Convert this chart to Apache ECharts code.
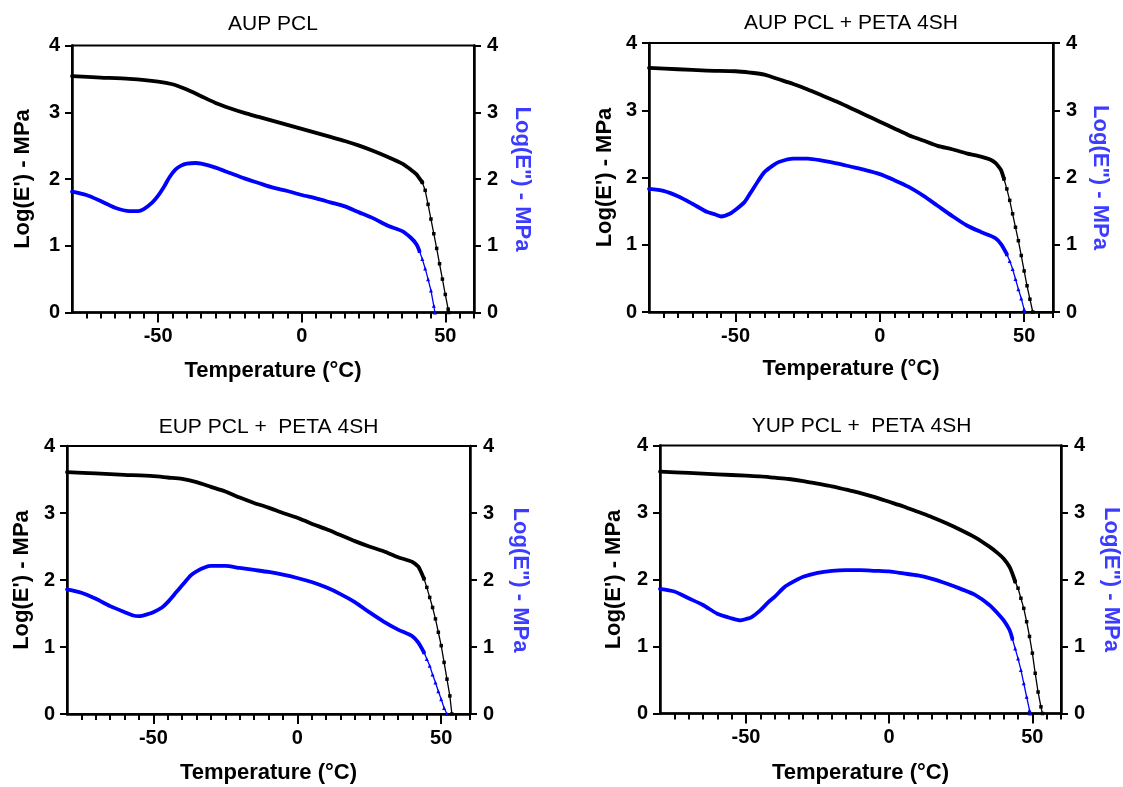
<!DOCTYPE html>
<html><head><meta charset="utf-8">
<script src="https://cdn.jsdelivr.net/npm/echarts@6/dist/echarts.min.js"></script>
<style>html,body{margin:0;padding:0;background:#fff}#c{width:1123px;height:787px}</style>
</head><body><div id="c"></div>
<script>
// ---------- DATA ----------
const titles = ['AUP PCL', 'AUP PCL + PETA 4SH', 'EUP PCL +  PETA 4SH', 'YUP PCL +  PETA 4SH'];
const xLabelTicks = [-50, 0, 50];
const xMinorTicks = [-75,-70,-65,-60,-55,-45,-40,-35,-30,-25,-20,-15,-10,-5,5,10,15,20,25,30,35,40,45,55,60];
const xName = 'Temperature (°C)';
const yLeftName = "Log(E') - MPa";
const yRightName = 'Log(E") - MPa';

// Panel 1: AUP PCL
const p1StorageT = [-80,-70,-60,-50,-45,-40,-35,-30,-25,-20,-15,-10,-5,0,5,10,15,20,25,30,35,38,40,41,42,43,44,45,46,47,48,49,50,51,51.2];
const p1Storage  = [3.54,3.52,3.50,3.46,3.42,3.34,3.24,3.14,3.06,2.99,2.93,2.87,2.81,2.75,2.69,2.63,2.57,2.50,2.42,2.33,2.23,2.14,2.07,2.01,1.95,1.83,1.62,1.40,1.18,0.96,0.73,0.50,0.27,0.05,0.0];
const p1LossT = [-80,-75,-70,-65,-60,-57,-55,-52,-50,-48,-46,-44,-42,-40,-37,-35,-30,-25,-20,-15,-10,-5,0,5,10,15,20,25,30,35,38,40,41,42,43,44,45,46,46.4];
const p1Loss  = [1.81,1.76,1.67,1.57,1.52,1.52,1.55,1.65,1.75,1.88,2.03,2.14,2.20,2.23,2.24,2.23,2.17,2.09,2.01,1.94,1.87,1.82,1.76,1.71,1.65,1.59,1.50,1.41,1.30,1.22,1.12,1.02,0.92,0.80,0.66,0.50,0.33,0.10,0.0];

// Panel 2: AUP PCL + PETA 4SH
const p2StorageT = [-80,-70,-60,-50,-45,-40,-35,-30,-25,-20,-15,-10,-5,0,5,10,15,20,25,30,35,38,40,41,42,43,44,45,46,47,48,49,50,51,52,53];
const p2Storage  = [3.63,3.61,3.59,3.58,3.56,3.53,3.46,3.39,3.31,3.22,3.13,3.03,2.93,2.83,2.73,2.63,2.55,2.47,2.42,2.36,2.31,2.27,2.22,2.17,2.11,1.98,1.83,1.66,1.46,1.26,1.06,0.84,0.61,0.39,0.19,0.0];
const p2LossT = [-80,-75,-70,-65,-60,-57,-55,-52,-50,-47,-45,-42,-40,-37,-35,-30,-25,-20,-15,-10,-5,0,5,10,15,20,25,30,35,40,42,44,45,46,47,48,49,50,50.2];
const p2Loss  = [1.83,1.80,1.72,1.61,1.49,1.45,1.42,1.46,1.52,1.63,1.76,1.96,2.08,2.18,2.23,2.28,2.28,2.25,2.21,2.16,2.11,2.05,1.96,1.86,1.73,1.58,1.43,1.29,1.19,1.10,1.01,0.86,0.76,0.64,0.49,0.34,0.20,0.04,0.0];

// Panel 3: EUP PCL + PETA 4SH
const p3StorageT = [-80,-70,-60,-50,-45,-40,-35,-30,-25,-20,-15,-10,-5,0,5,10,15,20,25,30,35,40,42,43,44,45,46,47,48,49,50,51,52,53,53.7];
const p3Storage  = [3.61,3.59,3.57,3.55,3.53,3.51,3.46,3.39,3.32,3.23,3.15,3.08,3.00,2.93,2.84,2.76,2.67,2.58,2.50,2.43,2.34,2.27,2.20,2.12,2.02,1.89,1.74,1.59,1.42,1.22,1.02,0.77,0.52,0.27,0.0];
const p3LossT = [-80,-75,-70,-65,-60,-57,-55,-52,-50,-47,-45,-42,-40,-37,-35,-32,-30,-25,-20,-15,-10,-5,0,5,10,15,20,25,30,35,40,42,44,45,46,47,48,49,50,51,52];
const p3Loss  = [1.86,1.81,1.72,1.61,1.52,1.47,1.46,1.49,1.52,1.59,1.67,1.82,1.92,2.07,2.13,2.19,2.21,2.21,2.18,2.15,2.12,2.08,2.03,1.97,1.89,1.79,1.67,1.52,1.38,1.26,1.16,1.07,0.92,0.82,0.72,0.59,0.47,0.34,0.22,0.09,0.0];

// Panel 4: YUP PCL + PETA 4SH
const p4StorageT = [-80,-70,-60,-50,-45,-40,-35,-30,-25,-20,-15,-10,-5,0,5,10,15,20,25,30,35,38,40,42,43,44,45,46,47,48,49,50,51,52,53,53.5];
const p4Storage  = [3.61,3.59,3.57,3.55,3.54,3.52,3.50,3.47,3.43,3.39,3.34,3.29,3.23,3.16,3.09,3.01,2.93,2.84,2.74,2.63,2.49,2.39,2.31,2.19,2.09,1.97,1.87,1.72,1.57,1.37,1.15,0.90,0.60,0.32,0.10,0.0];
const p4LossT = [-80,-75,-70,-65,-60,-55,-52,-50,-48,-45,-42,-40,-37,-35,-30,-25,-20,-15,-10,-5,0,5,10,15,20,25,30,35,38,40,42,43,44,45,46,47,48,49,49.2];
const p4Loss  = [1.86,1.82,1.72,1.62,1.49,1.42,1.39,1.41,1.44,1.54,1.67,1.74,1.87,1.93,2.04,2.10,2.13,2.14,2.14,2.13,2.12,2.09,2.06,2.01,1.94,1.86,1.77,1.62,1.49,1.39,1.25,1.12,0.97,0.82,0.65,0.45,0.25,0.05,0.0];

// ---------- LAYOUT / STYLE ----------
const FONT = "'Liberation Sans', Arial, sans-serif";
const BLUE = '#0000ff';
const BLUE_NAME = '#3c3cff';
const panels = [
  {title: titles[0], sT: p1StorageT, s: p1Storage, lT: p1LossT, l: p1Loss, sTail: 42, lTail: 41,
   grid: {left: 72, top: 45.5, width: 402, height: 267}, titleY: 24.5, gapL: 38, gapR: 37, gapX: 47},
  {title: titles[1], sT: p2StorageT, s: p2Storage, lT: p2LossT, l: p2Loss, sTail: 43, lTail: 44,
   grid: {left: 649, top: 43, width: 404, height: 269}, titleY: 23.5, gapL: 33, gapR: 36, gapX: 46},
  {title: titles[2], sT: p3StorageT, s: p3Storage, lT: p3LossT, l: p3Loss, sTail: 44, lTail: 44,
   grid: {left: 67, top: 446, width: 403, height: 268}, titleY: 427, gapL: 34, gapR: 39, gapX: 48},
  {title: titles[3], sT: p4StorageT, s: p4Storage, lT: p4LossT, l: p4Loss, sTail: 44, lTail: 43,
   grid: {left: 660, top: 445.5, width: 403, height: 268}, titleY: 426.5, gapL: 35, gapR: 39, gapX: 48}
];

function pairs(ts, vs) { return ts.map((t, i) => [t, vs[i]]); }
function head(ts, vs, from) { return pairs(ts, vs).filter(p => p[0] <= from); }
function tail(ts, vs, from) { return pairs(ts, vs).filter(p => p[0] >= from); }

const option = {
  animation: false,
  backgroundColor: '#fff',
  textStyle: {fontFamily: FONT},
  grid: [], xAxis: [], yAxis: [], series: [], graphic: []
};

panels.forEach((p, i) => {
  option.grid.push(Object.assign({show: true, borderColor: '#000', borderWidth: 2, backgroundColor: 'transparent', containLabel: false}, p.grid));
  const axisLine = {show: true, onZero: false, lineStyle: {color: '#000', width: 2.5}};
  option.xAxis.push({
    gridIndex: i, type: 'value', min: -80, max: 60, position: 'bottom',
    axisLine: axisLine,
    axisTick: {show: true, customValues: xLabelTicks, length: 10, lineStyle: {color: '#000', width: 2}},
    axisLabel: {customValues: xLabelTicks, fontSize: 20, fontWeight: 'bold', color: '#000', fontFamily: FONT, margin: 14},
    splitLine: {show: false},
    name: xName, nameLocation: 'middle', nameGap: p.gapX,
    nameTextStyle: {fontSize: 22, fontWeight: 'bold', color: '#000', fontFamily: FONT}
  });
  option.xAxis.push({
    gridIndex: i, type: 'value', min: -80, max: 60, position: 'bottom', offset: 0,
    axisLine: {show: false},
    axisTick: {show: true, customValues: xMinorTicks, length: 6, lineStyle: {color: '#000', width: 2}},
    axisLabel: {show: false}, splitLine: {show: false}
  });
  option.yAxis.push({
    gridIndex: i, type: 'value', min: 0, max: 4, interval: 1, position: 'left',
    axisLine: axisLine,
    axisTick: {show: true, length: 7, lineStyle: {color: '#000', width: 2}},
    axisLabel: {fontSize: 20, fontWeight: 'bold', color: '#000', fontFamily: FONT, margin: 12},
    splitLine: {show: false},
    name: yLeftName, nameLocation: 'middle', nameRotate: 90, nameGap: p.gapL,
    nameTextStyle: {fontSize: 22, fontWeight: 'bold', color: '#000', fontFamily: FONT}
  });
  option.yAxis.push({
    gridIndex: i, type: 'value', min: 0, max: 4, interval: 1, position: 'right',
    axisLine: axisLine,
    axisTick: {show: true, length: 7, lineStyle: {color: '#000', width: 2}},
    axisLabel: {fontSize: 20, fontWeight: 'bold', color: '#000', fontFamily: FONT, margin: 13},
    splitLine: {show: false},
    name: yRightName, nameLocation: 'middle', nameRotate: -90, nameGap: p.gapR,
    nameTextStyle: {fontSize: 22, fontWeight: 'bold', color: BLUE_NAME, fontFamily: FONT}
  });
  const xi = i * 2, yl = i * 2, yr = i * 2 + 1;
  const mainStyle = (c) => ({type: 'line', xAxisIndex: xi, showSymbol: false, smooth: 0.25,
    lineStyle: {color: c, width: 3.8, join: 'round', cap: 'round'}, itemStyle: {color: c}, z: 3});
  option.series.push(Object.assign(mainStyle(BLUE), {yAxisIndex: yr, data: head(p.lT, p.l, p.lTail)}));
  option.series.push({type: 'line', xAxisIndex: xi, yAxisIndex: yr, data: tail(p.lT, p.l, p.lTail),
    showSymbol: true, symbol: 'triangle', symbolSize: 4, lineStyle: {color: BLUE, width: 1.3}, itemStyle: {color: BLUE}, z: 3});
  option.series.push(Object.assign(mainStyle('#000'), {yAxisIndex: yl, data: head(p.sT, p.s, p.sTail)}));
  option.series.push({type: 'line', xAxisIndex: xi, yAxisIndex: yl, data: tail(p.sT, p.s, p.sTail),
    showSymbol: true, symbol: 'rect', symbolSize: 3.5, lineStyle: {color: '#000', width: 1.3}, itemStyle: {color: '#000'}, z: 4});
  option.graphic.push({
    type: 'text', x: p.grid.left + p.grid.width / 2, y: p.titleY,
    style: {text: p.title, fontSize: 21, fontFamily: FONT, fill: '#000', align: 'center', verticalAlign: 'middle'}
  });
});

const chart = echarts.init(document.getElementById('c'), null, {renderer: 'canvas'});
chart.setOption(option);
</script>
</body></html>
